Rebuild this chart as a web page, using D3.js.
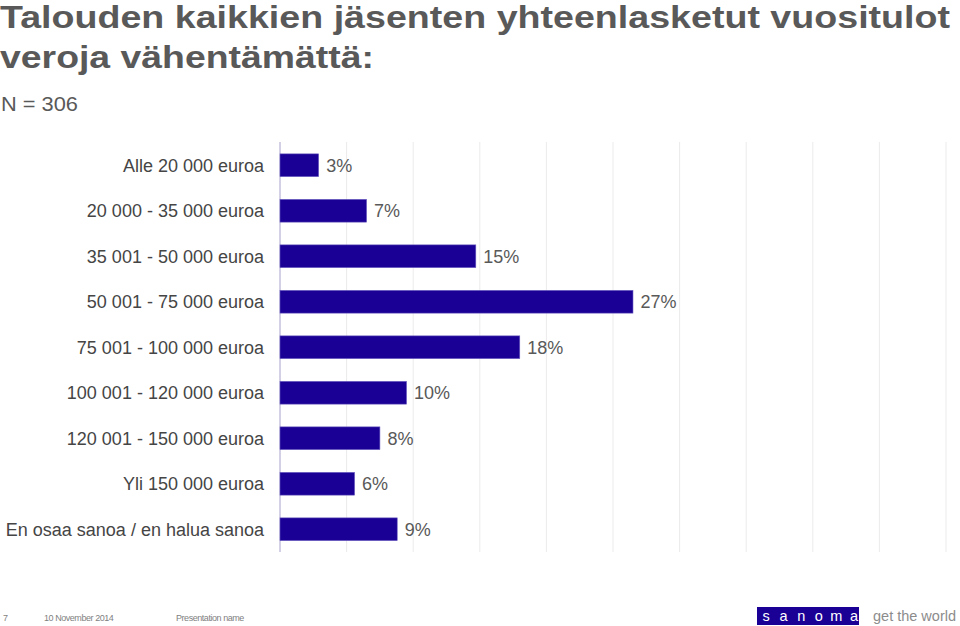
<!DOCTYPE html>
<html><head><meta charset="utf-8">
<script src="https://cdn.jsdelivr.net/npm/d3@7"></script>
<style>body{margin:0;background:#fff}svg{display:block}text{font-family:"Liberation Sans",Arial,sans-serif}</style>
</head><body><svg id="c" width="960" height="626"></svg>
<script>
const categories = ["Alle 20 000 euroa","20 000 - 35 000 euroa","35 001 - 50 000 euroa","50 001 - 75 000 euroa","75 001 - 100 000 euroa","100 001 - 120 000 euroa","120 001 - 150 000 euroa","Yli 150 000 euroa","En osaa sanoa / en halua sanoa"];
const values = [2.9, 6.5, 14.7, 26.5, 18.0, 9.5, 7.5, 5.6, 8.8];
const valueLabels = ["3%","7%","15%","27%","18%","10%","8%","6%","9%"];
const gridTicks = [0,5,10,15,20,25,30,35,40,45,50];
const titleLines = ["Talouden kaikkien jäsenten yhteenlasketut vuositulot","veroja vähentämättä:"];
const titleWidths = [950, 374];
const subtitle = "N = 306";
const footer = ["7","10 November 2014","Presentation name"];
const logoLetters = ["s","a","n","o","m","a"];

const svg = d3.select("#c");
const x = d3.scaleLinear().domain([0,50]).range([280,946]);
const y = d3.scaleBand().domain(categories).range([142.5,552]).paddingInner(0.5).paddingOuter(0.25);

// title
svg.selectAll("text.title").data(titleLines).join("text").attr("class","title")
  .attr("x",0).attr("y",(d,i)=>28+i*40).attr("fill","#595959")
  .attr("font-size",32).attr("font-weight","bold")
  .attr("textLength",(d,i)=>titleWidths[i]).attr("lengthAdjust","spacingAndGlyphs").text(d=>d);
svg.append("text").attr("x",1).attr("y",111).attr("fill","#595959").attr("font-size",21)
  .attr("textLength",77).attr("lengthAdjust","spacingAndGlyphs").text(subtitle);

// grid
svg.append("g").selectAll("line").data(gridTicks.slice(1)).join("line")
  .attr("x1",d=>x(d)).attr("x2",d=>x(d)).attr("y1",142).attr("y2",552)
  .attr("stroke","#ebebeb").attr("stroke-width",1);
svg.append("line").attr("x1",x(0)).attr("x2",x(0)).attr("y1",142).attr("y2",552)
  .attr("stroke","#a8a2cc").attr("stroke-width",1);

// bars
svg.append("g").selectAll("rect").data(values).join("rect")
  .attr("x",x(0)).attr("y",(d,i)=>y(categories[i]))
  .attr("width",d=>x(d)-x(0)).attr("height",y.bandwidth())
  .attr("fill","#1b0096").attr("stroke","#6a5cc0").attr("stroke-width",0.6);

// value labels
svg.append("g").selectAll("text").data(values).join("text")
  .attr("x",d=>x(d)+7.5).attr("y",(d,i)=>y(categories[i])+y.bandwidth()/2+6.5)
  .attr("fill","#595959").attr("font-size",18).text((d,i)=>valueLabels[i]);

// category labels
svg.append("g").selectAll("text").data(categories).join("text")
  .attr("x",264).attr("y",d=>y(d)+y.bandwidth()/2+6.5).attr("text-anchor","end")
  .attr("fill","#454545").attr("font-size",18).text(d=>d);

// footer
const fx=[3,44,176];
svg.append("g").selectAll("text").data(footer).join("text")
  .attr("x",(d,i)=>fx[i]).attr("y",621).attr("fill","#7f7f7f").attr("font-size",9)
  .attr("letter-spacing",-0.45).text(d=>d);
svg.append("rect").attr("x",757).attr("y",607).attr("width",102).attr("height",18).attr("fill","#1b0096");
svg.append("g").selectAll("text").data(logoLetters).join("text")
  .attr("x",(d,i)=>766+i*17.6).attr("y",621).attr("text-anchor","middle").attr("fill","#fff")
  .attr("font-size",14.5).text(d=>d);
svg.append("text").attr("x",873).attr("y",621).attr("fill","#8c8c8c").attr("font-size",14.5).text("get the world");
</script></body></html>
